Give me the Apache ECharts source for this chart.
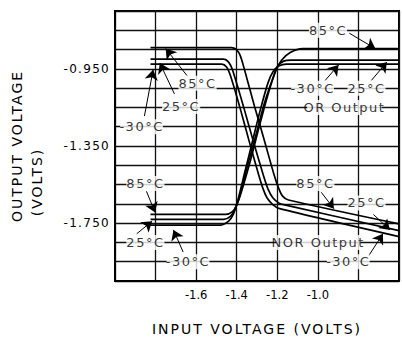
<!DOCTYPE html>
<html>
<head>
<meta charset="utf-8">
<script src="https://cdn.jsdelivr.net/npm/echarts@6/dist/echarts.min.js"></script>
<style>
html,body{margin:0;padding:0;background:#fff;}
#chart{width:402px;height:341px;}
#chart text[style*="14px"]{letter-spacing:2px;}
#chart text[style*="13px"]{letter-spacing:1.5px;}
#chart text[style*="12px"]{letter-spacing:1.3px;}
</style>
</head>
<body>
<div id="chart"></div>
<script>
// ---- tick labels ----
const xTicks = [-1.6, -1.4, -1.2, -1.0];
const xTickLabels = ['-1.6', '-1.4', '-1.2', '-1.0'];
const yTicks = [-0.95, -1.35, -1.75];
const yTickLabels = ['-0.950', '-1.350', '-1.750'];

// ---- NOR output (high -> low) ----
const norIn85  = [-1.825, -1.426, -1.402, -1.383, -1.364, -1.312, -1.264, -1.217, -1.193, -1.174, -1.145, -0.6];
const norOut85 = [-0.84, -0.84, -0.85, -0.88, -0.945, -1.145, -1.32, -1.495, -1.57, -1.61, -1.63, -1.754];
const norIn25  = [-1.825, -1.464, -1.44, -1.421, -1.364, -1.317, -1.269, -1.245, -1.221, -1.193, -1.164, -0.6];
const norOut25 = [-0.9, -0.9, -0.915, -0.955, -1.155, -1.33, -1.5, -1.575, -1.62, -1.645, -1.655, -1.789];
const norInM30  = [-1.825, -1.474, -1.45, -1.431, -1.383, -1.336, -1.293, -1.269, -1.25, -1.221, -1.188, -0.6];
const norOutM30 = [-0.925, -0.925, -0.94, -0.985, -1.155, -1.335, -1.495, -1.575, -1.62, -1.655, -1.675, -1.82];

// ---- OR output (low -> high) ----
const orIn85  = [-1.825, -1.455, -1.421, -1.402, -1.379, -1.331, -1.288, -1.245, -1.207, -1.179, -1.136, -1.074, -0.6];
const orOut85 = [-1.705, -1.705, -1.69, -1.66, -1.595, -1.42, -1.245, -1.08, -0.96, -0.905, -0.865, -0.845, -0.845];
const orIn25  = [-1.825, -1.464, -1.431, -1.407, -1.388, -1.345, -1.302, -1.264, -1.221, -1.198, -1.169, -1.131, -0.6];
const orOut25 = [-1.73, -1.73, -1.715, -1.675, -1.62, -1.445, -1.28, -1.13, -0.995, -0.935, -0.91, -0.905, -0.905];
const orInM30  = [-1.825, -1.479, -1.44, -1.417, -1.398, -1.36, -1.321, -1.283, -1.245, -1.221, -1.193, -1.155, -0.6];
const orOutM30 = [-1.76, -1.76, -1.74, -1.705, -1.645, -1.485, -1.32, -1.16, -1.02, -0.965, -0.935, -0.925, -0.925];

// ---- annotations ----
const noteText = ['85°C', '25°C', '-30°C', '85°C', '-30°C', '25°C', 'OR Output', '85°C', '25°C', '-30°C', '85°C', '25°C', 'NOR Output', '-30°C'];
const noteX = [-1.593, -1.674, -1.869, -0.95, -1.026, -0.76, -0.869, -1.85, -1.85, -1.64, -1.012, -0.76, -0.998, -0.85];
const noteY = [-1.025, -1.145, -1.25, -0.75, -1.05, -1.05, -1.15, -1.545, -1.85, -1.95, -1.545, -1.645, -1.85, -1.95];

const arrowFromX = [-1.645, -1.707, -1.855, -0.845, -0.964, -0.736, -1.845, -1.893, -1.664, -0.983, -0.726, -0.75];
const arrowFromY = [-0.985, -1.08, -1.195, -0.765, -1.01, -1.01, -1.585, -1.805, -1.90, -1.59, -1.705, -1.92];
const arrowToX   = [-1.75, -1.779, -1.812, -0.717, -0.898, -0.66, -1.802, -1.817, -1.712, -0.921, -0.645, -0.679];
const arrowToY   = [-0.845, -0.92, -0.955, -0.845, -0.93, -0.915, -1.695, -1.74, -1.785, -1.675, -1.785, -1.805];

const FONT = 'DejaVu Sans';
function pts(xs, ys) { return xs.map((x, i) => [x, ys[i]]); }
function curve(name, xs, ys) {
  return {
    name: name, type: 'line', data: pts(xs, ys), showSymbol: false, smooth: 0.25,
    lineStyle: { color: '#000', width: 1.7 }, z: 3, silent: true,
    emphasis: { disabled: true }
  };
}
function pick(ticks, labels, v) {
  const i = ticks.findIndex(t => Math.abs(t - v) < 1e-6);
  return i >= 0 ? labels[i] : '';
}

const chart = echarts.init(document.getElementById('chart'), null, { renderer: 'svg' });
chart.setOption({
  animation: false,
  backgroundColor: '#fff',
  grid: { left: 115, top: 11, width: 295, height: 280, show: true, borderColor: '#000', borderWidth: 2 },
  xAxis: {
    type: 'value', min: -2.0, max: -0.6, interval: 0.2,
    name: 'INPUT VOLTAGE (VOLTS)', nameLocation: 'middle', nameGap: 41,
    nameTextStyle: { fontFamily: FONT, fontSize: 14, color: '#000' },
    axisLine: { show: true, lineStyle: { color: '#000', width: 2 } },
    axisTick: { show: false },
    axisLabel: { margin: 8, fontFamily: FONT, fontSize: 11.5, color: '#000',
      formatter: v => pick(xTicks, xTickLabels, v) },
    splitLine: { show: true, lineStyle: { color: '#111', width: 1.3 } }
  },
  yAxis: {
    type: 'value', min: -2.05, max: -0.65, interval: 0.1,
    name: 'OUTPUT VOLTAGE', nameLocation: 'middle', nameGap: 91,
    nameTextStyle: { fontFamily: FONT, fontSize: 14, color: '#000' },
    axisLine: { show: true, lineStyle: { color: '#000', width: 2 } },
    axisTick: { show: false },
    axisLabel: { margin: 5, fontFamily: FONT, fontSize: 12, color: '#000',
      formatter: v => pick(yTicks, yTickLabels, v) },
    splitLine: { show: true, lineStyle: { color: '#111', width: 1.3 } }
  },
  graphic: [{
    type: 'text', x: 37, y: 182, rotation: Math.PI / 2, silent: true,
    style: { text: '(VOLTS)', fill: '#000', font: '14px "DejaVu Sans"', align: 'center', verticalAlign: 'middle' }
  }],
  series: [
    curve('NOR 85', norIn85, norOut85),
    curve('NOR 25', norIn25, norOut25),
    curve('NOR -30', norInM30, norOutM30),
    curve('OR 85', orIn85, orOut85),
    curve('OR 25', orIn25, orOut25),
    curve('OR -30', orInM30, orOutM30),
    {
      name: 'notes', type: 'scatter', symbolSize: 0, z: 5, silent: true,
      itemStyle: { color: 'rgba(0,0,0,0)' },
      data: noteText.map((t, i) => ({ name: t, value: [noteX[i], noteY[i]] })),
      label: { show: true, position: 'inside', formatter: p => p.name,
        fontFamily: FONT, fontSize: 13, color: '#000', backgroundColor: '#fff', padding: [1, 3] },
      markLine: {
        silent: true, animation: false, symbol: ['none', 'arrow'], symbolSize: 10,
        label: { show: false }, emphasis: { disabled: true },
        lineStyle: { color: '#000', width: 1, type: 'solid' },
        data: arrowFromX.map((x, i) => [{ coord: [x, arrowFromY[i]] }, { coord: [arrowToX[i], arrowToY[i]] }])
      }
    }
  ]
});
</script>
</body>
</html>
